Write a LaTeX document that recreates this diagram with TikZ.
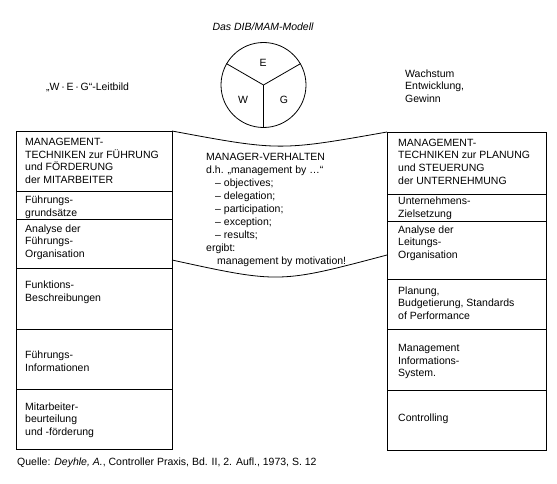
\documentclass[tikz,border=0pt]{standalone}
\usepackage{fontspec}
\setmainfont{Liberation Sans}
\begin{document}
\begin{tikzpicture}[x=1pt,y=-1pt,
  every node/.style={inner sep=0pt,font=\fontsize{10.5}{12.6}\selectfont},
  txt/.style={anchor=west,align=left},
  rule/.style={line width=0.8pt}]
\useasboundingbox (0,0) rectangle (557,484);
% title and circle
\node (title) at (263,27) {\itshape Das DIB/MAM-Modell};
\node[circle,draw,line width=0.8pt,minimum size=85pt] (c) at (263.5,85) {};
\draw[rule] (c.center) -- (c.150);
\draw[rule] (c.center) -- (c.30);
\draw[rule] (c.center) -- (c.270);
\node (E) at (263,63) {E};
\node (W) at (243,100) {W};
\node (G) at (284,100) {G};
\node[txt] (leit) at (46,87) {„W\,·\,E\,·\,G“-Leitbild};
\node[txt] (weg) at (405,86) {Wachstum\\Entwicklung,\\Gewinn};
% left column
\coordinate (LTL) at (16,131);
\coordinate (LTR) at (172,131);
\draw[rule] (LTL) rectangle (172,449);
\foreach \y in {191,219,268,329,389} \draw[rule] (16,\y) -- (172,\y);
\node[txt] (l1) at (25,161) {MANAGEMENT-\\TECHNIKEN zur FÜHRUNG\\und FÖRDERUNG\\der MITARBEITER};
\node[txt] (l2) at (25,207) {Führungs-\\grundsätze};
\node[txt] (l3) at (25,242) {Analyse der\\Führungs-\\Organisation};
\node[txt] (l4) at (25,292) {Funktions-\\Beschreibungen};
\node[txt] (l5) at (25,361) {Führungs-\\Informationen};
\node[txt] (l6) at (25,420) {Mitarbeiter-\\beurteilung\\und -förderung};
% right column
\coordinate (RTL) at (387,132);
\draw[rule] (RTL) rectangle (546,450);
\foreach \y in {194,221,279,329,390} \draw[rule] (387,\y) -- (546,\y);
\node[txt] (r1) at (398,161.5) {MANAGEMENT-\\TECHNIKEN zur PLANUNG\\und STEUERUNG\\der UNTERNEHMUNG};
\node[txt] (r2) at (398,208) {Unternehmens-\\Zielsetzung};
\node[txt] (r3) at (398,243) {Analyse der\\Leitungs-\\Organisation};
\node[txt] (r4) at (398,303) {Planung,\\Budgetierung, Standards\\of Performance};
\node[txt] (r5) at (398,361.5) {Management\\Informations-\\System.};
\node[txt] (r6) at (398,419) {Controlling};
% central shape
\coordinate (LB) at (172,260);
\coordinate (RB) at (387,255);
\draw[rule] (LTR) .. controls (279.5,151) .. (RTL);
\draw[rule] (LB) .. controls (279.5,283.5) .. (RB);
\node[txt,font=\fontsize{10.5}{13}\selectfont] (mid) at (206,209.5) {MANAGER-VERHALTEN\\d.h. „management by …“\\\hspace*{9pt}– objectives;\\\hspace*{9pt}– delegation;\\\hspace*{9pt}– participation;\\\hspace*{9pt}– exception;\\\hspace*{9pt}– results;\\ergibt:\\\hspace*{11pt}management by motivation!};
% source
\node[txt] (src) at (17,463) {Quelle: \textit{Deyhle, A.}, Controller Praxis, Bd. II, 2. Aufl., 1973, S. 12};
\end{tikzpicture}
\end{document}
